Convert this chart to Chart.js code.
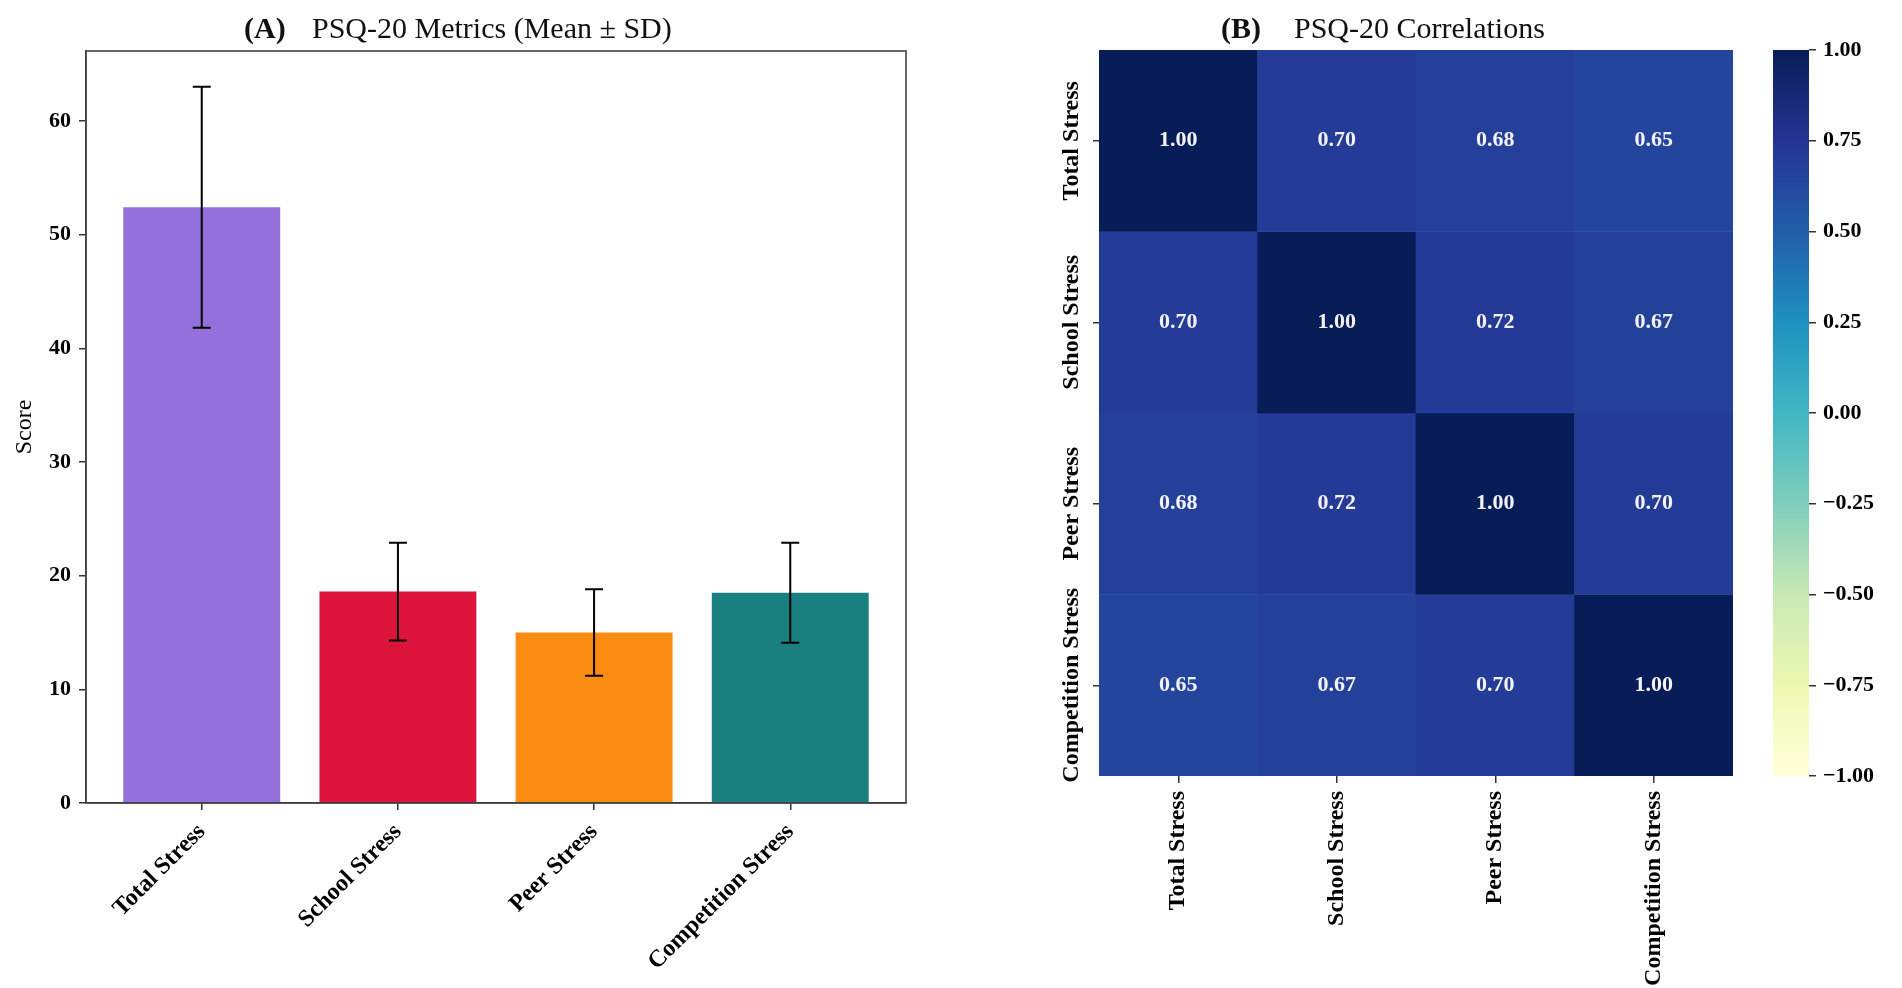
<!DOCTYPE html>
<html>
<head>
<meta charset="utf-8">
<title>PSQ-20 Metrics and Correlations</title>
<script src="https://cdn.jsdelivr.net/npm/chart.js@4.4.1/dist/chart.umd.min.js"></script>
<style>
  html, body { margin: 0; padding: 0; background: #fff; overflow: hidden; }
  canvas { position: absolute; top: 0; }
  #barChart { left: 0; width: 960px; height: 988px; }
  #heatChart { left: 960px; width: 780px; height: 988px; }
  #colorBar { left: 1740px; width: 162px; height: 988px; }
</style>
</head>
<body>
<canvas id="barChart" width="960" height="988"></canvas>
<canvas id="heatChart" width="780" height="988"></canvas>
<canvas id="colorBar" width="162" height="988"></canvas>
<script>
// panel A: mean and SD of each PSQ-20 scale
const categories = ['Total Stress', 'School Stress', 'Peer Stress', 'Competition Stress'];
const means = [52.4, 18.6, 15.0, 18.5];
const sds = [10.6, 4.3, 3.8, 4.4];
const scoreTicks = [0, 10, 20, 30, 40, 50, 60];

// panel B: correlation matrix, one row per scale
const corrTotal = [1.00, 0.70, 0.68, 0.65];
const corrSchool = [0.70, 1.00, 0.72, 0.67];
const corrPeer = [0.68, 0.72, 1.00, 0.70];
const corrCompetition = [0.65, 0.67, 0.70, 1.00];
const corrRows = [corrTotal, corrSchool, corrPeer, corrCompetition];
const colorbarTicks = [-1, -0.75, -0.5, -0.25, 0, 0.25, 0.5, 0.75, 1];

const serif = "'Liberation Serif', 'Times New Roman', serif";
const barColors = ['#9370db', '#dc143c', '#fb8c12', '#1a7f7f'];

// YlGnBu colormap stops
const ylgnbu = [
  [255, 255, 217], [237, 248, 177], [199, 233, 180], [127, 205, 187], [65, 182, 196],
  [29, 145, 192], [34, 94, 168], [37, 52, 148], [8, 29, 88]
];
function cmap(v) {
  const t = Math.min(1, Math.max(0, (v + 1) / 2)) * 8;
  const i = Math.min(7, Math.floor(t));
  const f = t - i;
  const a = ylgnbu[i], b = ylgnbu[i + 1];
  const c = a.map((ch, k) => Math.round(ch + (b[k] - ch) * f));
  return `rgb(${c[0]}, ${c[1]}, ${c[2]})`;
}

const panelTitle = {
  id: 'panelTitle',
  afterDraw(chart, args, opts) {
    const ctx = chart.ctx;
    ctx.save();
    ctx.fillStyle = '#111';
    ctx.textAlign = 'left';
    ctx.textBaseline = 'alphabetic';
    ctx.font = `bold 30px ${serif}`;
    ctx.fillText(opts.tag, opts.tagX, opts.y);
    ctx.font = `30px ${serif}`;
    ctx.fillText(opts.text, opts.textX, opts.y);
    ctx.restore();
  }
};

const errorBars = {
  id: 'errorBars',
  afterDatasetsDraw(chart) {
    const { ctx, scales: { x, y } } = chart;
    ctx.save();
    ctx.strokeStyle = '#000';
    ctx.lineWidth = 2;
    means.forEach((m, i) => {
      const px = x.getPixelForValue(i);
      const top = y.getPixelForValue(m + sds[i]);
      const bot = y.getPixelForValue(m - sds[i]);
      ctx.beginPath();
      ctx.moveTo(px, top); ctx.lineTo(px, bot);
      ctx.moveTo(px - 9, top); ctx.lineTo(px + 9, top);
      ctx.moveTo(px - 9, bot); ctx.lineTo(px + 9, bot);
      ctx.stroke();
    });
    ctx.restore();
  }
};

const frame = {
  id: 'frame',
  afterDatasetsDraw(chart) {
    const { ctx, chartArea: a } = chart;
    ctx.save();
    ctx.strokeStyle = '#444';
    ctx.lineWidth = 1.6;
    ctx.strokeRect(a.left, a.top, a.right - a.left, a.bottom - a.top);
    ctx.restore();
  }
};

new Chart(document.getElementById('barChart'), {
  type: 'bar',
  data: {
    datasets: [{
      data: means.map((m, i) => ({ x: i, y: m })),
      backgroundColor: barColors,
      borderWidth: 0,
      barPercentage: 0.8,
      categoryPercentage: 1
    }]
  },
  options: {
    responsive: false,
    animation: false,
    layout: { padding: { left: 0, right: 54, top: 51, bottom: 0 } },
    plugins: {
      legend: { display: false },
      tooltip: { enabled: false },
      panelTitle: { tag: '(A)', text: 'PSQ-20 Metrics (Mean \u00b1 SD)', tagX: 244, textX: 312, y: 38 }
    },
    scales: {
      x: {
        type: 'linear',
        min: -0.59,
        max: 3.59,
        offset: false,
        afterBuildTicks: s => { s.ticks = categories.map((c, i) => ({ value: i })); },
        afterFit: s => { s.height = 185; },
        grid: { drawOnChartArea: false, offset: false, tickLength: 7, color: '#333', lineWidth: 1.5 },
        border: { color: '#333', width: 1.6 },
        ticks: {
          autoSkip: false,
          minRotation: 45,
          maxRotation: 45,
          padding: 8,
          color: '#000',
          font: { family: serif, size: 24, weight: 'bold' },
          callback: v => categories[v]
        }
      },
      y: {
        min: 0,
        max: 66.15,
        afterBuildTicks: s => { s.ticks = scoreTicks.map(v => ({ value: v })); },
        afterFit: s => { s.width = 86; },
        grid: { drawOnChartArea: false, tickLength: 7, color: '#333', lineWidth: 1.5 },
        border: { color: '#444', width: 1.6 },
        ticks: { padding: 8, color: '#000', font: { family: serif, size: 22, weight: 'bold' } },
        title: { display: true, text: 'Score', color: '#000', font: { family: serif, size: 24 }, padding: { top: 10 } }
      }
    }
  },
  plugins: [errorBars, frame, panelTitle]
});

const cellLabels = {
  id: 'cellLabels',
  afterDatasetsDraw(chart) {
    const { ctx, scales: { x, y } } = chart;
    ctx.save();
    ctx.font = `bold 22px ${serif}`;
    ctx.fillStyle = '#f2f2f2';
    ctx.textAlign = 'center';
    ctx.textBaseline = 'middle';
    corrRows.forEach((row, r) => {
      row.forEach((v, c) => {
        ctx.fillText(v.toFixed(2), x.getPixelForValue(c + 0.5), y.getPixelForValue(r + 0.5));
      });
    });
    ctx.restore();
  }
};

// row names stand upright along the left side, centred on each row
const rowLabels = {
  id: 'rowLabels',
  afterDraw(chart) {
    const { ctx, chartArea, scales: { y } } = chart;
    ctx.save();
    ctx.font = `bold 24px ${serif}`;
    ctx.fillStyle = '#000';
    ctx.textAlign = 'center';
    ctx.textBaseline = 'middle';
    categories.forEach((name, i) => {
      ctx.save();
      ctx.translate(chartArea.left - 27, y.getPixelForValue(i + 0.5));
      ctx.rotate(-Math.PI / 2);
      ctx.fillText(name, 0, 0);
      ctx.restore();
    });
    ctx.restore();
  }
};

new Chart(document.getElementById('heatChart'), {
  type: 'bar',
  data: {
    datasets: corrRows.map((row, r) => ({
      data: row.map((v, c) => ({ x: c + 0.5, y: [r, r + 1] })),
      backgroundColor: row.map(cmap),
      borderWidth: 0,
      grouped: false,
      barPercentage: 1,
      categoryPercentage: 1
    }))
  },
  options: {
    responsive: false,
    animation: false,
    layout: { padding: { left: 0, right: 7, top: 50, bottom: 0 } },
    plugins: {
      legend: { display: false },
      tooltip: { enabled: false },
      panelTitle: { tag: '(B)', text: 'PSQ-20 Correlations', tagX: 261, textX: 334, y: 38 }
    },
    scales: {
      x: {
        type: 'linear',
        min: 0,
        max: 4,
        offset: false,
        afterBuildTicks: s => { s.ticks = categories.map((c, i) => ({ value: i + 0.5 })); },
        afterFit: s => { s.height = 212; },
        grid: { drawOnChartArea: false, offset: false, tickLength: 7, color: '#333', lineWidth: 1.5 },
        border: { display: false },
        ticks: {
          autoSkip: false,
          minRotation: 90,
          maxRotation: 90,
          padding: 8,
          color: '#000',
          font: { family: serif, size: 24, weight: 'bold' },
          callback: (v, i) => categories[i]
        }
      },
      y: {
        type: 'linear',
        min: 0,
        max: 4,
        reverse: true,
        afterBuildTicks: s => { s.ticks = categories.map((c, i) => ({ value: i + 0.5 })); },
        afterFit: s => { s.width = 139; },
        grid: { drawOnChartArea: false, tickLength: 6, color: '#333', lineWidth: 1.5 },
        border: { display: false },
        ticks: { display: false }
      }
    }
  },
  plugins: [cellLabels, rowLabels, panelTitle]
});

new Chart(document.getElementById('colorBar'), {
  type: 'bar',
  data: {
    labels: ['r'],
    datasets: [{
      data: [[-1, 1]],
      backgroundColor: c => {
        const area = c.chart.chartArea;
        if (!area) return cmap(0);
        const g = c.chart.ctx.createLinearGradient(0, area.bottom, 0, area.top);
        ylgnbu.forEach((rgb, i) => g.addColorStop(i / 8, `rgb(${rgb.join(',')})`));
        return g;
      },
      borderWidth: 0,
      barPercentage: 1,
      categoryPercentage: 1
    }]
  },
  options: {
    responsive: false,
    animation: false,
    layout: { padding: { left: 33, right: 0, top: 50, bottom: 212 } },
    plugins: { legend: { display: false }, tooltip: { enabled: false } },
    scales: {
      x: { display: false },
      y: {
        position: 'right',
        min: -1,
        max: 1,
        afterBuildTicks: s => { s.ticks = colorbarTicks.map(v => ({ value: v })); },
        afterFit: s => { s.width = 93; },
        grid: { drawOnChartArea: false, tickLength: 7, color: '#333', lineWidth: 1.5 },
        border: { display: false },
        ticks: {
          padding: 7,
          color: '#000',
          font: { family: serif, size: 22, weight: 'bold' },
          callback: v => v.toFixed(2).replace('-', '\u2212')
        }
      }
    }
  }
});
</script>
</body>
</html>
